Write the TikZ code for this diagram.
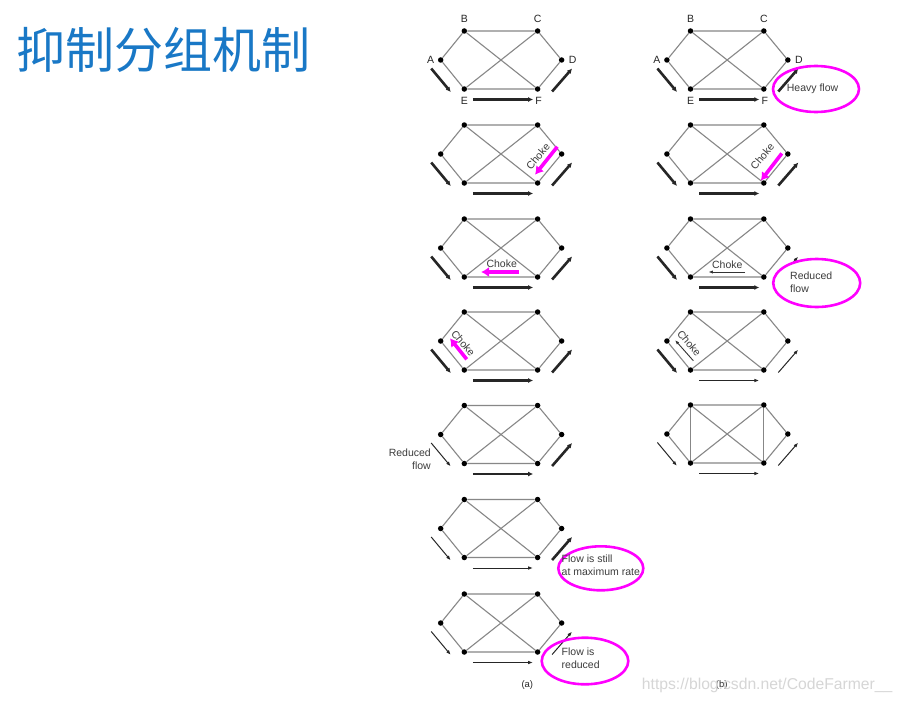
\documentclass[tikz,border=0pt]{standalone}
\usepackage{fontspec}
\setmainfont{Liberation Sans}
\newfontfamily\cjk{Noto Sans CJK SC}
\usetikzlibrary{arrows.meta,calc,shapes.geometric}
\definecolor{titleblue}{RGB}{25,120,198}
\definecolor{hlmag}{RGB}{255,0,255}
\definecolor{edgegray}{RGB}{135,135,135}
\definecolor{txtgray}{RGB}{60,60,60}

\newcommand{\netgraph}[3]{%
  \node[dot] (#1B) at (#2,#3) {};
  \node[dot] (#1C) at ({#2+73.3},#3) {};
  \node[dot] (#1A) at ({#2-23.6},{#3+29}) {};
  \node[dot] (#1D) at ({#2+97.3},{#3+29}) {};
  \node[dot] (#1E) at (#2,{#3+58}) {};
  \node[dot] (#1F) at ({#2+73.3},{#3+58}) {};
  \draw[edge] (#1A) -- (#1B) -- (#1C) -- (#1D) -- (#1F) -- (#1E) -- (#1A)
              (#1B) -- (#1F) (#1C) -- (#1E);
}
\newcommand{\flows}[4]{%
  \draw[#2] ($(#1A)+(-9.5,8.5)$) -- ($(#1E)+(-13.5,3)$);
  \draw[#3] ($(#1E)+(8.5,10.5)$) -- ($(#1F)+(-4.5,10.5)$);
  \draw[#4] ($(#1F)+(14.5,2.5)$) -- ($(#1D)+(10.5,8.5)$);
}

\begin{document}
\begin{tikzpicture}[x=1pt,y=-1pt,
  dot/.style={circle,fill=black,inner sep=0pt,minimum size=5.5pt},
  edge/.style={draw=edgegray,line width=1.1pt},
  thickflow/.style={draw=black!85,line width=2.6pt,-{Latex[length=5pt,width=5pt]}},
  thinflow/.style={draw=black!85,line width=1pt,-{Latex[length=5pt,width=3.6pt]}},
  chokearrow/.style={draw=hlmag,line width=3.6pt,-{Latex[length=8pt,width=10pt]}},
  thinchoke/.style={draw=black!80,line width=0.9pt,-{Latex[length=4.5pt,width=3.2pt]}},
  lbl/.style={font=\fontsize{10.5}{12.5}\selectfont,text=black!85,inner sep=0pt},
  note/.style={font=\fontsize{10.5}{13}\selectfont,text=txtgray,inner sep=0pt},
  hl/.style={ellipse,draw=hlmag,line width=2.6pt,inner sep=0pt}
]
\fill[white] (0,0) rectangle (904,701);
\useasboundingbox (0,0) rectangle (904,701);

% title
\node[anchor=west,inner sep=0pt,text=titleblue,font=\cjk\fontsize{49}{53}\selectfont] (title) at (16.5,50) {抑制分组机制};

% column (a)
\netgraph{a1}{464.3}{31}
\netgraph{a2}{464.3}{125}
\netgraph{a3}{464.3}{219}
\netgraph{a4}{464.3}{312}
\netgraph{a5}{464.3}{405.5}
\netgraph{a6}{464.3}{499.5}
\netgraph{a7}{464.3}{594}
% column (b)
\netgraph{b1}{690.5}{31}
\netgraph{b2}{690.5}{125}
\netgraph{b3}{690.5}{219}
\netgraph{b4}{690.5}{312}
\netgraph{b5}{690.5}{405}
\draw[edge] (b5B) -- (b5E) (b5C) -- (b5F);

% node letters
\node[lbl] (a1Bl) at ($(a1B)+(0,-12)$) {B};
\node[lbl] (a1Cl) at ($(a1C)+(0,-12)$) {C};
\node[lbl] (a1Al) at ($(a1A)+(-10,0)$) {A};
\node[lbl] (a1Dl) at ($(a1D)+(11,0)$) {D};
\node[lbl] (a1El) at ($(a1E)+(0,11.5)$) {E};
\node[lbl] (a1Fl) at ($(a1F)+(1,11.5)$) {F};
\node[lbl] (b1Bl) at ($(b1B)+(0,-12)$) {B};
\node[lbl] (b1Cl) at ($(b1C)+(0,-12)$) {C};
\node[lbl] (b1Al) at ($(b1A)+(-10,0)$) {A};
\node[lbl] (b1Dl) at ($(b1D)+(11,0)$) {D};
\node[lbl] (b1El) at ($(b1E)+(0,11.5)$) {E};
\node[lbl] (b1Fl) at ($(b1F)+(1,11.5)$) {F};

% flow arrows
\flows{a1}{thickflow}{thickflow}{thickflow}
\flows{a2}{thickflow}{thickflow}{thickflow}
\flows{a3}{thickflow}{thickflow}{thickflow}
\flows{a4}{thickflow}{thickflow}{thickflow}
\flows{a5}{thinflow}{thickflow}{thickflow}
\flows{a6}{thinflow}{thinflow}{thickflow}
\flows{a7}{thinflow}{thinflow}{thinflow}
\flows{b1}{thickflow}{thickflow}{thickflow}
\flows{b2}{thickflow}{thickflow}{thickflow}
\flows{b3}{thickflow}{thickflow}{thinflow}
\flows{b4}{thickflow}{thinflow}{thinflow}
\flows{b5}{thinflow}{thinflow}{thinflow}

% choke packets
\draw[chokearrow] ($(a2F)+(19.7,-36.3)$) -- ($(a2F)+(-2.6,-8.3)$);
\node[note,rotate=50] (a2ck) at ($(a2F)+(0.3,-26.3)$) {Choke};
\draw[chokearrow] ($(b2F)+(18,-29.6)$) -- ($(b2F)+(-3,-2.3)$);
\node[note,rotate=50] (b2ck) at ($(b2F)+(-1.5,-26.3)$) {Choke};
\draw[chokearrow] ($(a3E)+(55,-5)$) -- ($(a3E)+(16.7,-5)$);
\node[note] (a3ck) at ($(a3E)+(37.4,-13.4)$) {Choke};
\draw[thinchoke] ($(b3E)+(54.5,-5)$) -- ($(b3E)+(17.8,-5)$);
\node[note] (b3ck) at ($(b3E)+(36.8,-12)$) {Choke};
\draw[chokearrow] ($(a4E)+(2.4,-10.7)$) -- ($(a4E)+(-14.3,-31.7)$);
\node[note,rotate=-50] (a4ck) at ($(a4E)+(-1,-26.7)$) {Choke};
\draw[thinchoke] ($(b4E)+(2.8,-9.3)$) -- ($(b4E)+(-15.5,-30)$);
\node[note,rotate=-50] (b4ck) at ($(b4E)+(-1.2,-26.7)$) {Choke};

% highlighted notes
\node[hl,minimum width=86pt,minimum height=46pt] (b1ell) at (816,89) {};
\node[note] (b1txt) at (812.5,88.5) {Heavy flow};
\node[hl,fill=white,minimum width=87pt,minimum height=48pt] (b3ell) at (816.7,283) {};
\node[note,align=left,anchor=west] (b3txt) at (790,282.5) {Reduced\\flow};
\node[note,align=right,anchor=east] (a5txt) at (431,459) {Reduced\\flow};
\node[hl,minimum width=85pt,minimum height=44pt] (a6ell) at (600.8,568.3) {};
\node[note,align=left,anchor=west] (a6txt) at (561.5,565.5) {Flow is still\\at maximum rate};
\node[hl,minimum width=86.6pt,minimum height=46.6pt] (a7ell) at (585,661) {};
\node[note,align=left,anchor=west] (a7txt) at (561.5,658) {Flow is\\reduced};

% captions
\node[lbl,font=\fontsize{9.5}{11}\selectfont] (capa) at (527.3,685) {(a)};
\node[lbl,font=\fontsize{9.5}{11}\selectfont] (capb) at (721.7,685) {(b)};
\node[anchor=west,inner sep=0pt,text=black!16,font=\fontsize{15.7}{18}\selectfont] (wm) at (641.7,685.5) {https://blog.csdn.net/CodeFarmer\_\_};
\end{tikzpicture}
\end{document}
